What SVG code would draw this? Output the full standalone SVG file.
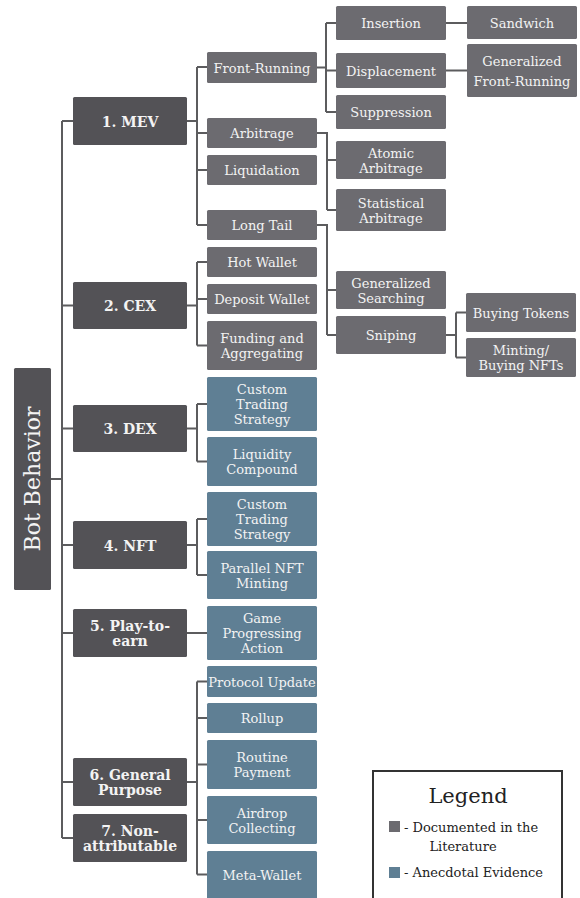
<svg xmlns="http://www.w3.org/2000/svg" width="580" height="898" viewBox="0 0 580 898">
<style>
rect.d{fill:#535256}
rect.g{fill:#6c6b70}
rect.b{fill:#5f7f94}
text{font-family:"DejaVu Serif","Liberation Serif",serif;fill:#f3f3f3;text-anchor:middle}
text.t{font-size:13px}
text.h{font-size:14px;font-weight:bold}
.conn path{fill:none;stroke:#5c5c5e;stroke-width:2}
.leg text{fill:#222;text-anchor:start}
</style>
<rect width="580" height="898" fill="#ffffff"/>
<g class="conn">
<path d="M62,121V838M51,479H62"/>
<path d="M62,121H73M187,121H197M197,67V225M197,67H207M197,133H207M197,170H207M197,225H207"/>
<path d="M317,67.5H326M326,23V112M326,23H336M326,70.5H336M326,112H336M446,23H467M446,70.5H467"/>
<path d="M317,133H327V210M327,160H336M327,210H336"/>
<path d="M317,225H327V335M327,290H336M327,335H336"/>
<path d="M446,335H456M456,312.5V357.5M456,312.5H466M456,357.5H466"/>
<path d="M62,305.5H73M187,305.5H197M197,262V345.5M197,262H207M197,299H207M197,345.5H207"/>
<path d="M62,428.5H73M187,428.5H197M197,404V461.5M197,404H207M197,461.5H207"/>
<path d="M62,545H73M187,545H197M197,519V575M197,519H207M197,575H207"/>
<path d="M62,633H73M187,633H207"/>
<path d="M62,782H73M187,782H197M197,681.5V874.5M197,681.5H207M197,718H207M197,764.5H207M197,820H207M197,874.5H207"/>
<path d="M62,838H73"/>
</g>
<g id="root"><rect class="d" x="14" y="368" width="37" height="222" rx="1.5"/><text transform="translate(32.5,479) rotate(-90)" x="0" y="7" style="font-size:22px">Bot Behavior</text></g>
<g id="mev"><rect class="d" x="73" y="97" width="114" height="48" rx="1.5"/><text class="h" x="130" y="126.5">1. MEV</text></g>
<g id="cex"><rect class="d" x="73" y="282" width="114" height="47" rx="1.5"/><text class="h" x="130" y="311">2. CEX</text></g>
<g id="dex"><rect class="d" x="73" y="405" width="114" height="47" rx="1.5"/><text class="h" x="130" y="434">3. DEX</text></g>
<g id="nft"><rect class="d" x="73" y="521" width="114" height="48" rx="1.5"/><text class="h" x="130" y="550.5">4. NFT</text></g>
<g id="p2e"><rect class="d" x="73" y="609" width="114" height="48" rx="1.5"/><text class="h" x="130" y="631">5. Play-to-</text><text class="h" x="130" y="646">earn</text></g>
<g id="general"><rect class="d" x="73" y="758" width="114" height="48" rx="1.5"/><text class="h" x="130" y="780">6. General</text><text class="h" x="130" y="795">Purpose</text></g>
<g id="nonattr"><rect class="d" x="73" y="814" width="114" height="48" rx="1.5"/><text class="h" x="130" y="836">7. Non-</text><text class="h" x="130" y="851">attributable</text></g>
<g id="frontrunning"><rect class="g" x="207" y="52" width="110" height="31" rx="1.5"/><text class="t" x="262" y="72.5">Front-Running</text></g>
<g id="arbitrage"><rect class="g" x="207" y="118" width="110" height="30" rx="1.5"/><text class="t" x="262" y="138">Arbitrage</text></g>
<g id="liquidation"><rect class="g" x="207" y="155" width="110" height="30" rx="1.5"/><text class="t" x="262" y="175">Liquidation</text></g>
<g id="longtail"><rect class="g" x="207" y="210" width="110" height="30" rx="1.5"/><text class="t" x="262" y="230">Long Tail</text></g>
<g id="insertion"><rect class="g" x="336" y="6" width="110" height="34" rx="1.5"/><text class="t" x="391" y="28">Insertion</text></g>
<g id="sandwich"><rect class="g" x="467" y="6" width="110" height="33" rx="1.5"/><text class="t" x="522" y="27.5">Sandwich</text></g>
<g id="displacement"><rect class="g" x="336" y="53" width="110" height="35" rx="1.5"/><text class="t" x="391" y="75.5">Displacement</text></g>
<g id="genfr"><rect class="g" x="467" y="44" width="110" height="53" rx="1.5"/><text class="t" x="522" y="66">Generalized</text><text class="t" x="522" y="86">Front-Running</text></g>
<g id="suppression"><rect class="g" x="336" y="95" width="110" height="34" rx="1.5"/><text class="t" x="391" y="117">Suppression</text></g>
<g id="atomic"><rect class="g" x="336" y="141" width="110" height="38" rx="1.5"/><text class="t" x="391" y="157.5">Atomic</text><text class="t" x="391" y="172.5">Arbitrage</text></g>
<g id="statistical"><rect class="g" x="336" y="189" width="110" height="42" rx="1.5"/><text class="t" x="391" y="207.5">Statistical</text><text class="t" x="391" y="222.5">Arbitrage</text></g>
<g id="gensearch"><rect class="g" x="336" y="271" width="110" height="38" rx="1.5"/><text class="t" x="391" y="287.5">Generalized</text><text class="t" x="391" y="302.5">Searching</text></g>
<g id="sniping"><rect class="g" x="336" y="316" width="110" height="38" rx="1.5"/><text class="t" x="391" y="340">Sniping</text></g>
<g id="buyingtokens"><rect class="g" x="466" y="293" width="110" height="39" rx="1.5"/><text class="t" x="521" y="317.5">Buying Tokens</text></g>
<g id="minting"><rect class="g" x="466" y="338" width="110" height="39" rx="1.5"/><text class="t" x="521" y="355">Minting/</text><text class="t" x="521" y="370">Buying NFTs</text></g>
<g id="hotwallet"><rect class="g" x="207" y="247" width="110" height="30" rx="1.5"/><text class="t" x="262" y="267">Hot Wallet</text></g>
<g id="depositwallet"><rect class="g" x="207" y="284" width="110" height="30" rx="1.5"/><text class="t" x="262" y="304">Deposit Wallet</text></g>
<g id="funding"><rect class="g" x="207" y="321" width="110" height="49" rx="1.5"/><text class="t" x="262" y="343">Funding and</text><text class="t" x="262" y="358">Aggregating</text></g>
<g id="dexcustom"><rect class="b" x="207" y="377" width="110" height="54" rx="1.5"/><text class="t" x="262" y="393.5">Custom</text><text class="t" x="262" y="408.5">Trading</text><text class="t" x="262" y="423.5">Strategy</text></g>
<g id="liqcompound"><rect class="b" x="207" y="437" width="110" height="49" rx="1.5"/><text class="t" x="262" y="459">Liquidity</text><text class="t" x="262" y="474">Compound</text></g>
<g id="nftcustom"><rect class="b" x="207" y="492" width="110" height="54" rx="1.5"/><text class="t" x="262" y="508.5">Custom</text><text class="t" x="262" y="523.5">Trading</text><text class="t" x="262" y="538.5">Strategy</text></g>
<g id="parallelnft"><rect class="b" x="207" y="551" width="110" height="48" rx="1.5"/><text class="t" x="262" y="572.5">Parallel NFT</text><text class="t" x="262" y="587.5">Minting</text></g>
<g id="game"><rect class="b" x="207" y="606" width="110" height="54" rx="1.5"/><text class="t" x="262" y="622.5">Game</text><text class="t" x="262" y="637.5">Progressing</text><text class="t" x="262" y="652.5">Action</text></g>
<g id="protocol"><rect class="b" x="207" y="666" width="110" height="31" rx="1.5"/><text class="t" x="262" y="686.5">Protocol Update</text></g>
<g id="rollup"><rect class="b" x="207" y="703" width="110" height="30" rx="1.5"/><text class="t" x="262" y="723">Rollup</text></g>
<g id="routine"><rect class="b" x="207" y="740" width="110" height="49" rx="1.5"/><text class="t" x="262" y="762">Routine</text><text class="t" x="262" y="777">Payment</text></g>
<g id="airdrop"><rect class="b" x="207" y="796" width="110" height="48" rx="1.5"/><text class="t" x="262" y="817.5">Airdrop</text><text class="t" x="262" y="832.5">Collecting</text></g>
<g id="metawallet"><rect class="b" x="207" y="851" width="110" height="50" rx="1.5"/><text class="t" x="262" y="880">Meta-Wallet</text></g>
<g id="legend" class="leg">
<rect x="373" y="771" width="189" height="140" fill="#ffffff" stroke="#333333" stroke-width="2"/>
<text x="468" y="803" style="font-size:21px;text-anchor:middle">Legend</text>
<rect x="389" y="821" width="11" height="11" fill="#6c6b70"/>
<text x="404" y="832" style="font-size:13px">- Documented in the</text>
<text x="463" y="851" style="font-size:13px;text-anchor:middle">Literature</text>
<rect x="389" y="867" width="11" height="11" fill="#5f7f94"/>
<text x="404" y="877" style="font-size:13px">- Anecdotal Evidence</text>
</g>
</svg>
